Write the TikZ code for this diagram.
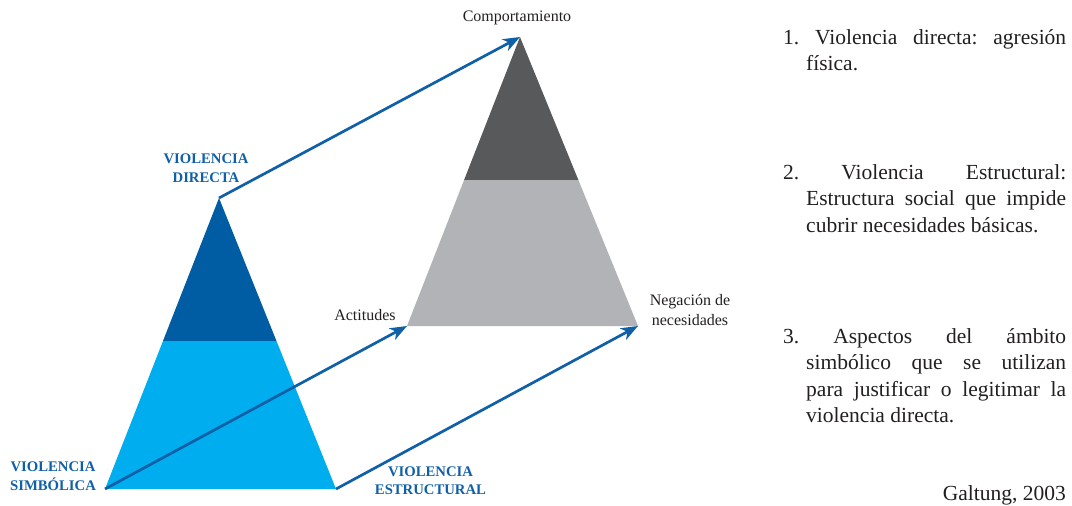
\documentclass[tikz,border=0pt]{standalone}
\usepackage{fontspec}
\setmainfont{Liberation Serif}
\usetikzlibrary{arrows.meta,calc}
\definecolor{dblue}{HTML}{005DA4}
\definecolor{lblue}{HTML}{00AEEF}
\definecolor{dgray}{HTML}{58595B}
\definecolor{lgray}{HTML}{B1B3B6}
\definecolor{arrblue}{HTML}{1060A8}
\definecolor{txt}{HTML}{231F20}
\begin{document}
\begin{tikzpicture}[x=1pt,y=-1pt,
  arr/.style={draw=arrblue, line width=2.7pt, -{Stealth[length=17pt,width=13pt,inset=5pt]}},
  vlabel/.style={inner sep=0pt, anchor=base, text=arrblue, font=\fontsize{14.7}{19}\selectfont\bfseries},
  small/.style={inner sep=0pt, anchor=base, text=txt, font=\fontsize{16}{20}\selectfont},
  para/.style={inner sep=0pt, anchor=base west, text=txt, font=\fontsize{21.5}{26.5}\selectfont\frenchspacing}
]
\useasboundingbox (0,0) rectangle (1072,506);

% vertices
\coordinate (LA) at (219,198);
\coordinate (LL) at (105,489);
\coordinate (LR) at (336,489);
\coordinate (RA) at (520,37);
\coordinate (RL) at (407,326);
\coordinate (RR) at (638,326);

% left triangle
\coordinate (LmL) at ($(LA)!0.4914!(LL)$);
\coordinate (LmR) at ($(LA)!0.4914!(LR)$);
\fill[lblue] (LmL) -- (LmR) -- (LR) -- (LL) -- cycle;
\fill[dblue] (LA) -- (LmR) -- (LmL) -- cycle;

% right triangle
\coordinate (RmL) at ($(RA)!0.4948!(RL)$);
\coordinate (RmR) at ($(RA)!0.4948!(RR)$);
\fill[lgray] (RmL) -- (RmR) -- (RR) -- (RL) -- cycle;
\fill[dgray] (RA) -- (RmR) -- (RmL) -- cycle;

% arrows
\draw[arr] (LA) -- (RA);
\draw[arr] (LL) -- (RL);
\draw[arr] (LR) -- (RR);

% labels
\node[vlabel] (vd) at (206,163) {\begin{tabular}[t]{@{}c@{}}VIOLENCIA\\DIRECTA\end{tabular}};
\node[vlabel] (vs) at (53,471) {\begin{tabular}[t]{@{}c@{}}VIOLENCIA\\SIMBÓLICA\end{tabular}};
\node[vlabel,font=\fontsize{14.7}{18.5}\selectfont\bfseries] (ve) at (430.5,476) {\begin{tabular}[t]{@{}c@{}}VIOLENCIA\\ESTRUCTURAL\end{tabular}};

\node[small] (comp) at (517,21) {Comportamiento};
\node[small] (act) at (365,320) {Actitudes};
\node[small] (neg) at (690,305) {\begin{tabular}[t]{@{}c@{}}Negación de\\necesidades\end{tabular}};

% right text
\node[para] (p1) at (783,44) {\parbox[t]{283pt}{\tolerance=10000\hyphenpenalty=10000\hangindent=23pt\hangafter=1\noindent 1.\ Violencia directa: agresión\linebreak física.}};
\node[para] (p2) at (783,179) {\parbox[t]{283pt}{\tolerance=10000\hyphenpenalty=10000\hangindent=23pt\hangafter=1\noindent 2.\ Violencia Estructural:\linebreak Estructura social que impide\linebreak cubrir necesidades básicas.}};
\node[para] (p3) at (783,343) {\parbox[t]{283pt}{\tolerance=10000\hyphenpenalty=10000\hangindent=23pt\hangafter=1\noindent 3.\ Aspectos del ámbito\linebreak simbólico que se utilizan\linebreak para justificar o legitimar la\linebreak violencia directa.}};
\node[para, anchor=base east] (gal) at (1066,500) {Galtung, 2003};
\end{tikzpicture}
\end{document}
